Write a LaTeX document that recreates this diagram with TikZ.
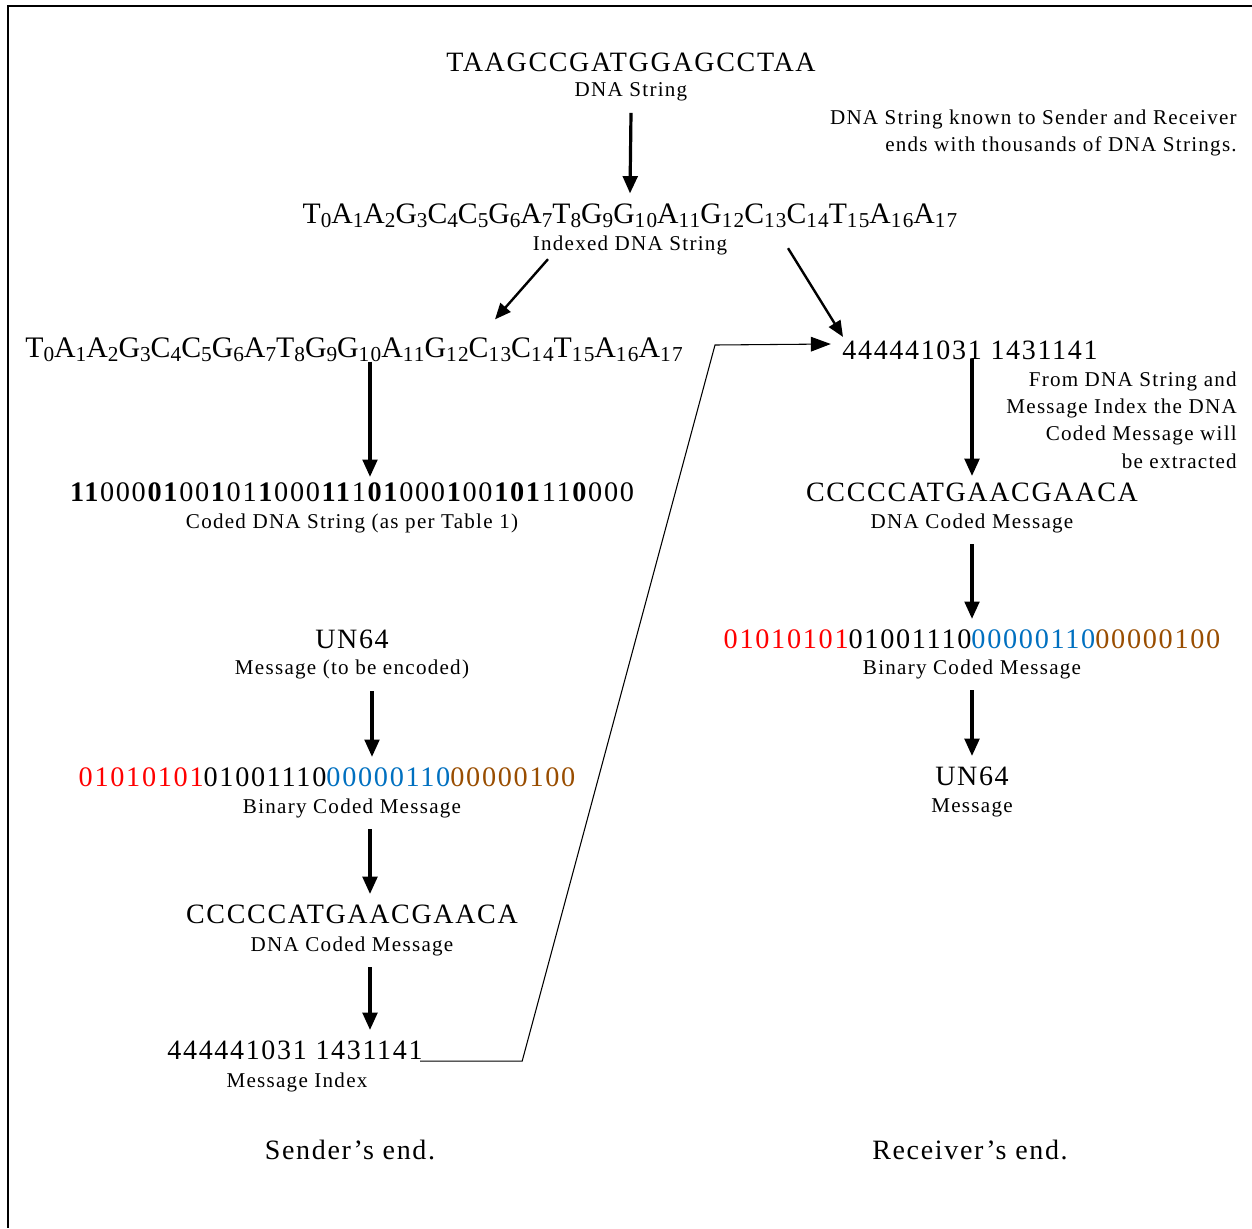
\documentclass[tikz,border=0pt]{standalone}
\usepackage{fontspec}
\setmainfont{Liberation Serif}
\newfontfamily\spfont[LetterSpace=6]{Liberation Serif}
\usetikzlibrary{arrows.meta,calc}
\definecolor{cred}{RGB}{255,0,0}
\definecolor{cblue}{RGB}{0,112,192}
\definecolor{cbrown}{RGB}{153,77,0}
\newcommand\ix[2]{#1\raisebox{-0.3ex}{\fontsize{15}{15}\selectfont #2}}
\newcommand\idxstring{\ix{T}{0}\ix{A}{1}\ix{A}{2}\ix{G}{3}\ix{C}{4}\ix{C}{5}\ix{G}{6}\ix{A}{7}\ix{T}{8}\ix{G}{9}\ix{G}{10}\ix{A}{11}\ix{G}{12}\ix{C}{13}\ix{C}{14}\ix{T}{15}\ix{A}{16}\ix{A}{17}}
\newcommand\binmsg{\textcolor{cred}{01010101}01001110\textcolor{cblue}{00000110}\textcolor{cbrown}{00000100}}
\tikzset{
  big/.style={font=\spfont\fontsize{21}{24}\selectfont, inner sep=1pt},
  code/.style={font=\spfont\fontsize{21.2}{24}\selectfont, inner sep=1pt},
  small/.style={font=\spfont\fontsize{15.8}{18}\selectfont, inner sep=1pt},
  note/.style={font=\spfont\fontsize{15.8}{20.5}\selectfont, align=right, anchor=east, inner sep=0pt},
  down/.style={line width=2.4pt, -{Triangle[width=11pt,length=13pt]}},
  diag/.style={line width=1.8pt, -{Triangle[width=10pt,length=12pt]}},
  thinarrow/.style={line width=0.8pt, -{Triangle[width=11pt,length=15pt]}}
}
\begin{document}
\begin{tikzpicture}[x=0.75pt,y=-0.75pt]
\useasboundingbox (0,0) rectangle (1252,1228);
% frame
\draw[line width=2.2pt] (7,6) -- (1252,6);
\draw[line width=1.1pt] (8,5) -- (8,1228);

% top
\node[big] (dna) at (631,62) {TAAGCCGATGGAGCCTAA};
\node[small] (dnal) at (631,92) {DNA String};
\node[note] (note1) at (1237,133) {DNA String known to Sender and Receiver\\ends with thousands of DNA Strings.};
\node[big] (idx) at (630,216) {\resizebox{491pt}{!}{\idxstring}};
\node[small] (idxl) at (630,245) {Indexed DNA String};
\draw[down] ($(dnal.south)+(0,10)$) -- ($(idx.north)+(0,-9)$);

% left column
\node[big] (lidx) at (354,350) {\resizebox{493pt}{!}{\idxstring}};
\draw[diag] ($(idxl.south)+(-82,3)$) -- ($(lidx.north)+(141,-17)$);
\node[code] (coded) at (352,492) {\textbf{11}000\textbf{01}00\textbf{1}01\textbf{1}000\textbf{11}1\textbf{01}000\textbf{1}00\textbf{101}11\textbf{0}000};
\node[small] (codedl) at (352,523) {Coded DNA String (as per Table 1)};
\draw[down] ($(lidx.south)+(16,-2)$) -- ($(coded.north)+(18,-4)$);

\node[big] (un) at (352,639) {UN64};
\node[small] (unl) at (352,669) {Message (to be encoded)};
\node[code] (lbin) at (327,777) {\binmsg};
\node[small] (lbinl) at (352,808) {Binary Coded Message};
\draw[down] ($(unl.south)+(20,11)$) -- ($(lbin.north)+(45,-9)$);
\node[big] (ldcm) at (352,914) {CCCCCATGAACGAACA};
\node[small] (ldcml) at (352,946) {DNA Coded Message};
\draw[down] ($(lbinl.south)+(18,10)$) -- ($(ldcm.north)+(18,-9)$);
\node[big] (sidx) at (295,1050) {444441031 1431141};
\node[small] (sidxl) at (297,1082) {Message Index};
\draw[down] ($(ldcml.south)+(18,10)$) -- ($(sidx.north)+(75,-9)$);

% right column
\node[big] (ridx) at (970,350) {444441031 1431141};
\draw[diag] ($(idxl.south)+(158,-8)$) -- ($(ridx.north)+(-127,-2)$);
\draw[thinarrow] ($(sidx.south east)+(-4,0)$) -- ++(102,0) -- (715,345) -- ($(ridx.west)+(-10,-6)$);
\node[note] (note2) at (1237,420) {From DNA String and\\Message Index the DNA\\Coded Message will\\be extracted};
\node[big] (rdcm) at (972,492) {CCCCCATGAACGAACA};
\node[small] (rdcml) at (972,523) {DNA Coded Message};
\draw[down] ($(ridx.south)+(2,-2)$) -- ($(rdcm.north)+(0,-5)$);
\node[code] (rbin) at (972,639) {\binmsg};
\node[small] (rbinl) at (972,669) {Binary Coded Message};
\draw[down] ($(rdcml.south)+(0,10)$) -- ($(rbin.north)+(0,-9)$);
\node[big] (run) at (972,776) {UN64};
\node[small] (runl) at (972,808) {Message};
\draw[down] ($(rbinl.south)+(0,10)$) -- ($(run.north)+(0,-9)$);

% footers
\node[big] (send) at (350,1150) {Sender’s end.};
\node[big] (recv) at (970,1150) {Receiver’s end.};
\end{tikzpicture}
\end{document}
